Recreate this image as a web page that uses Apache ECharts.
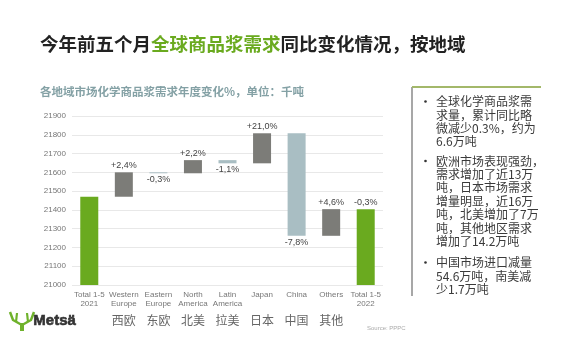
<!DOCTYPE html>
<html><head><meta charset="utf-8">
<script src="https://cdn.jsdelivr.net/npm/echarts@6/dist/echarts.min.js"></script>
<style>html,body{margin:0;padding:0;background:#fff}#c{width:570px;height:352px}</style>
</head><body><div id="c"></div>
<script>
var categoriesEn = ['Total 1-5\n2021','Western\nEurope','Eastern\nEurope','North\nAmerica','Latin\nAmerica','Japan','China','Others','Total 1-5\n2022'];
var categoriesZh = ['','西欧','东欧','北美','拉美','日本','中国','其他',''];
var total2021 = 21470;
var regionDeltas = [130, -5, 70, -17, 160, -546, 142];
var total2022 = 21404;
var pctLabels = ['', '+2,4%', '-0,3%', '+2,2%', '-1,1%', '+21,0%', '-7,8%', '+4,6%', '-0,3%'];
var yTicks = {min: 21000, max: 21900, interval: 100};

var GREEN = '#6aaa1f', UP = '#7c7c78', DOWN = '#a9bec3';
var baseData = [0], valData = [];
valData.push({value: total2021, itemStyle: {color: GREEN}, label: {show: false}});
var run = total2021;
regionDeltas.forEach(function (d, i) {
  var start = run, end = run + d;
  baseData.push(Math.min(start, end));
  valData.push({value: Math.abs(d), itemStyle: {color: d >= 0 ? UP : DOWN},
    label: {show: true, position: d >= 0 ? 'top' : 'bottom', formatter: pctLabels[i + 1]}});
  run = end;
});
baseData.push(0);
valData.push({value: total2022, itemStyle: {color: GREEN}, label: {show: true, position: 'top', formatter: pctLabels[8]}});

var F = '"Noto Sans CJK SC","Noto Sans",sans-serif';
var A = '"Liberation Sans",Arial,sans-serif';
var chart = echarts.init(document.getElementById('c'));
var boxText = function (x, y, lines) {
  return {type: 'text', left: x, top: y, style: {text: lines.join('\n'), fontSize: 12, lineHeight: 13.4, fill: '#3a3a3a', fontFamily: F}};
};
var bullet = function (y) {
  return {type: 'circle', shape: {cx: 425.5, cy: y, r: 1.3}, style: {fill: '#333'}};
};
chart.setOption({
  animation: false,
  textStyle: {fontFamily: A},
  title: [{
    left: 40, top: 35, padding: 0,
    text: '{a|今年前五个月}{b|全球商品浆需求}{a|同比变化情况，按地域}',
    textStyle: {rich: {
      a: {fontSize: 18.5, fontWeight: 'bold', color: '#222', fontFamily: F},
      b: {fontSize: 18.5, fontWeight: 'bold', color: '#6aaa1f', fontFamily: F}
    }}
  }, {
    left: 40, top: 86, padding: 0,
    text: '各地域市场化学商品浆需求年度变化%，单位：千吨',
    textStyle: {fontSize: 11.5, fontWeight: 'bold', color: '#84a1a5', fontFamily: F}
  }],
  grid: {left: 72, right: 187, top: 116, bottom: 67},
  xAxis: [{
    type: 'category', data: categoriesEn,
    axisLine: {show: false}, axisTick: {show: false},
    axisLabel: {fontSize: 8, lineHeight: 9, color: '#777', margin: 5, interval: 0, fontFamily: A}
  }, {
    type: 'category', data: categoriesZh, position: 'bottom', offset: 26,
    axisLine: {show: false}, axisTick: {show: false},
    axisLabel: {fontSize: 12, color: '#666', margin: 3, interval: 0, fontFamily: F}
  }],
  yAxis: {
    type: 'value', min: yTicks.min, max: yTicks.max, interval: yTicks.interval,
    axisLine: {show: false}, axisTick: {show: false},
    axisLabel: {fontSize: 8, color: '#777', margin: 6, fontFamily: A, formatter: function (v) { return String(v); }},
    splitLine: {lineStyle: {color: '#e8e8e8'}}
  },
  series: [{
    type: 'bar', stack: 'w', data: baseData, barWidth: 18,
    itemStyle: {color: 'transparent'}, silent: true
  }, {
    type: 'bar', stack: 'w', data: valData, barWidth: 18,
    label: {fontSize: 9, color: '#444', distance: 2, fontFamily: A}
  }],
  graphic: [
    {type: 'line', shape: {x1: 412, y1: 87, x2: 412, y2: 296}, style: {stroke: '#8a8a8a', lineWidth: 1.5}},
    {type: 'line', shape: {x1: 412, y1: 87, x2: 541, y2: 87}, style: {stroke: '#a3b86a', lineWidth: 2}},
    bullet(101.5), boxText(436, 95, ['全球化学商品浆需', '求量，累计同比略', '微减少0.3%，约为', '6.6万吨']),
    bullet(161), boxText(436, 154.3, ['欧洲市场表现强劲，', '需求增加了近13万', '吨，日本市场需求', '增量明显，近16万', '吨，北美增加了7万', '吨，其他地区需求', '增加了14.2万吨']),
    bullet(262.5), boxText(436, 256, ['中国市场进口减量', '54.6万吨，南美减', '少1.7万吨']),
    {type: 'polyline', shape: {points: [[10, 312], [13, 320], [21, 324.5]]}, style: {stroke: '#6fb22c', lineWidth: 2.5, fill: null}},
    {type: 'polyline', shape: {points: [[34, 312], [31, 320], [23, 324.5]]}, style: {stroke: '#6fb22c', lineWidth: 2.5, fill: null}},
    {type: 'line', shape: {x1: 16, y1: 322, x2: 17, y2: 313}, style: {stroke: '#6fb22c', lineWidth: 2.2}},
    {type: 'line', shape: {x1: 28, y1: 322, x2: 27, y2: 313}, style: {stroke: '#6fb22c', lineWidth: 2.2}},
    {type: 'line', shape: {x1: 22, y1: 323, x2: 22, y2: 331}, style: {stroke: '#6fb22c', lineWidth: 4}},
    {type: 'text', left: 33, top: 313, style: {text: 'Metsä', fontSize: 15, fontWeight: 'bold', fill: '#333', stroke: '#333', lineWidth: 0.6, fontFamily: A}},
    {type: 'text', left: 367, top: 325, style: {text: 'Source: PPPC', fontSize: 6, fill: '#aaa', fontFamily: A}}
  ]
});
</script></body></html>
